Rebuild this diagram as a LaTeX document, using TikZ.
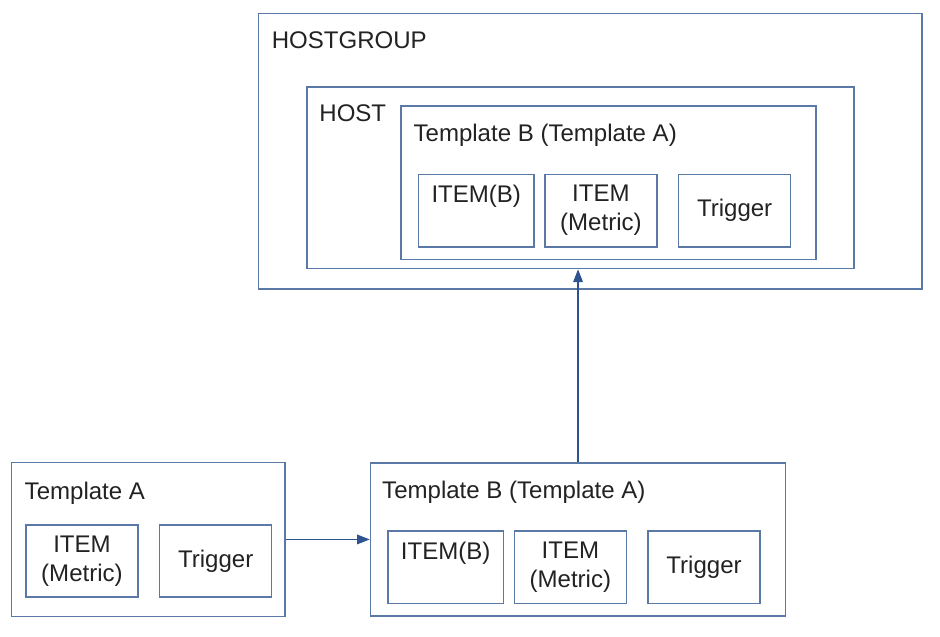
\documentclass[tikz,border=0pt]{standalone}
\usepackage{fontspec}
\setmainfont{Liberation Sans}
\usetikzlibrary{arrows.meta,positioning}
\definecolor{zbframe}{HTML}{5B79A6}
\definecolor{zbarrow}{HTML}{2F5290}
\definecolor{zbtext}{HTML}{222222}
\newcommand{\zbfont}{\fontsize{17.1pt}{20.6pt}\selectfont}

\begin{document}
\begin{tikzpicture}[
  frame/.style={draw=zbframe,line width=1.2pt,anchor=north west,inner sep=0pt},
  ttl/.style={font=\zbfont,text=zbtext,inner sep=0pt,outer sep=0pt,anchor=north west},
  part/.style={draw=zbframe,line width=1.2pt,minimum height=18.1mm,minimum width=28mm,
    align=center,font=\zbfont,text=zbtext,inner sep=0pt},
  arr/.style={-{Triangle[length=3.2mm,width=2.4mm]},line width=1.1pt,zbarrow}]
  \useasboundingbox (0,0) rectangle (235mm,-159mm);
  % deployed side
  \node[frame,minimum width=165.9mm,minimum height=68.9mm] (hostgroup) at (64.45mm,-3.2mm) {};
  \node[ttl,below right=4.75mm and 3.5mm of hostgroup.north west] (hostgroupttl) {HOSTGROUP};
  \node[frame,minimum width=136.75mm,minimum height=45.4mm,
    below right=18.3mm and 12.15mm of hostgroup.north west] (host) {};
  \node[ttl,below right=4.75mm and 3.25mm of host.north west] (hostttl) {HOST};
  \node[frame,minimum width=103.7mm,minimum height=38.35mm,
    below right=4.8mm and 23.5mm of host.north west] (tplBup) {};
  \node[ttl,below right=4.7mm and 3.3mm of tplBup.north west] (tplBupttl) {Template B (Template A)};
  \node[part,minimum width=28.9mm,below right=17.1mm and 4.3mm of tplBup.north west] (itemBup) {ITEM(B)\\\vphantom{)}};
  \node[part,right=2.3mm of itemBup] (metricBup) {ITEM\\(Metric)};
  \node[part,right=5mm of metricBup] (trigBup) {Trigger};
  % templates
  \node[frame,minimum width=68.35mm,minimum height=38.5mm] (tplA) at (2.68mm,-115.4mm) {};
  \node[ttl,below right=5mm and 3.5mm of tplA.north west] (tplAttl) {Template A};
  \node[part,below right=15.6mm and 3.6mm of tplA.north west] (metricA) {ITEM\\(Metric)};
  \node[part,right=5mm of metricA] (trigA) {Trigger};
  \node[frame,minimum width=103.7mm,minimum height=38.35mm,right=21mm of tplA] (tplBlow) {};
  \node[ttl,below right=4.75mm and 3.1mm of tplBlow.north west] (tplBlowttl) {Template B (Template A)};
  \node[part,minimum width=28.9mm,below right=17.1mm and 4.3mm of tplBlow.north west] (itemBlow) {ITEM(B)\\\vphantom{)}};
  \node[part,right=2.3mm of itemBlow] (metricBlow) {ITEM\\(Metric)};
  \node[part,right=5mm of metricBlow] (trigBlow) {Trigger};
  % links
  \draw[arr] (tplA) -- (tplBlow);
  \draw[arr] (tplBlow.north) -- (tplBlow.north |- host.south);
\end{tikzpicture}
\end{document}
